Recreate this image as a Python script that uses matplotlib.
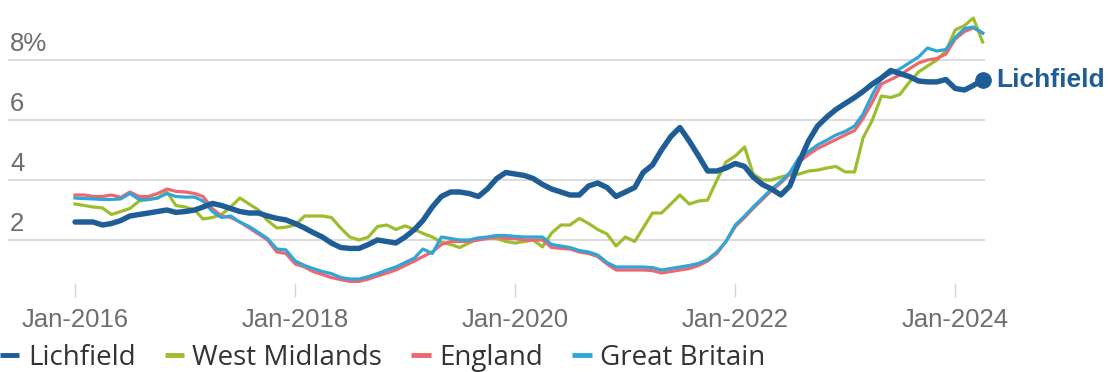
import numpy as np
import pandas as pd
import matplotlib
matplotlib.use("Agg")
import matplotlib.pyplot as plt
import matplotlib.dates as mdates
import matplotlib.transforms as mtransforms

# monthly values, Jan-2016 .. Apr-2024 (%)
months = pd.date_range("2016-01-01", periods=100, freq="MS")

lichfield = [
    2.6, 2.6, 2.6, 2.5, 2.55, 2.65, 2.8, 2.85, 2.9, 2.95,
    3.0, 2.92, 2.95, 3.0, 3.1, 3.22, 3.15, 3.05, 2.95, 2.9,
    2.9, 2.8, 2.72, 2.67, 2.55, 2.4, 2.25, 2.1, 1.9, 1.75,
    1.72, 1.72, 1.85, 2.0, 1.95, 1.9, 2.1, 2.35, 2.65, 3.1,
    3.45, 3.6, 3.6, 3.55, 3.45, 3.7, 4.05, 4.25, 4.2, 4.15,
    4.05, 3.85, 3.7, 3.6, 3.5, 3.5, 3.8, 3.9, 3.75, 3.45,
    3.6, 3.75, 4.25, 4.5, 5.0, 5.45, 5.75, 5.3, 4.8, 4.3,
    4.3, 4.4, 4.55, 4.45, 4.1, 3.85, 3.7, 3.5, 3.8, 4.6,
    5.3, 5.8, 6.1, 6.35, 6.55, 6.75, 6.95, 7.2, 7.4, 7.65,
    7.55, 7.45, 7.3, 7.27, 7.27, 7.35, 7.05, 7.0, 7.15, 7.33,
]
west_midlands = [
    3.2, 3.15, 3.1, 3.07, 2.85, 2.95, 3.05, 3.3, 3.35, 3.4,
    3.6, 3.15, 3.1, 3.0, 2.7, 2.75, 2.85, 3.1, 3.4, 3.2,
    3.0, 2.65, 2.4, 2.43, 2.5, 2.8, 2.8, 2.8, 2.75, 2.4,
    2.1, 2.0, 2.1, 2.45, 2.5, 2.35, 2.47, 2.35, 2.22, 2.1,
    1.93, 1.85, 1.75, 1.9, 2.05, 2.07, 2.05, 1.95, 1.9, 1.95,
    2.0, 1.77, 2.23, 2.5, 2.5, 2.72, 2.55, 2.35, 2.2, 1.8,
    2.1, 1.95, 2.4, 2.9, 2.9, 3.2, 3.5, 3.2, 3.3, 3.33,
    4.0, 4.6, 4.8, 5.1, 4.2, 4.0, 4.0, 4.1, 4.17, 4.2,
    4.3, 4.33, 4.4, 4.45, 4.27, 4.27, 5.4, 6.0, 6.8, 6.75,
    6.85, 7.25, 7.6, 7.8, 8.0, 8.3, 9.0, 9.15, 9.4, 8.6,
]
england = [
    3.5, 3.5, 3.45, 3.45, 3.5, 3.42, 3.6, 3.45, 3.45, 3.55,
    3.7, 3.62, 3.6, 3.55, 3.45, 3.05, 2.8, 2.75, 2.6, 2.4,
    2.2, 2.0, 1.6, 1.55, 1.2, 1.1, 0.95, 0.85, 0.75, 0.68,
    0.62, 0.62, 0.7, 0.8, 0.9, 1.0, 1.15, 1.3, 1.45, 1.6,
    1.85, 1.95, 1.95, 1.95, 2.0, 2.05, 2.1, 2.05, 2.05, 2.0,
    2.0, 2.0, 1.75, 1.72, 1.7, 1.6, 1.55, 1.45, 1.2, 1.0,
    1.0, 1.0, 1.0, 0.98, 0.9, 0.95, 1.0, 1.05, 1.15, 1.3,
    1.55, 1.95, 2.45, 2.75, 3.05, 3.35, 3.65, 3.9, 4.2, 4.6,
    4.85, 5.05, 5.2, 5.35, 5.5, 5.65, 6.05, 6.6, 7.2, 7.35,
    7.5, 7.7, 7.9, 8.0, 8.05, 8.2, 8.7, 8.95, 9.07, 8.9,
]
great_britain = [
    3.4, 3.38, 3.37, 3.35, 3.35, 3.37, 3.55, 3.35, 3.35, 3.4,
    3.55, 3.45, 3.43, 3.43, 3.3, 2.95, 2.75, 2.8, 2.6, 2.45,
    2.25, 2.05, 1.7, 1.67, 1.3, 1.15, 1.05, 0.95, 0.88, 0.75,
    0.7, 0.7, 0.78, 0.88, 1.0, 1.1, 1.25, 1.4, 1.7, 1.55,
    2.1, 2.05, 2.0, 2.0, 2.07, 2.1, 2.15, 2.15, 2.12, 2.1,
    2.1, 2.1, 1.85, 1.8, 1.75, 1.65, 1.6, 1.5, 1.25, 1.1,
    1.1, 1.1, 1.1, 1.08, 1.0, 1.05, 1.1, 1.15, 1.22, 1.35,
    1.6, 1.95, 2.5, 2.8, 3.1, 3.4, 3.7, 3.95, 4.25, 4.75,
    4.95, 5.17, 5.33, 5.5, 5.62, 5.8, 6.2, 6.85, 7.4, 7.55,
    7.7, 7.9, 8.1, 8.4, 8.3, 8.35, 8.75, 9.05, 9.1, 8.9,
]

y_ticks = [2, 4, 6, 8]
y_labels = ["2", "4", "6", "8%"]
x_ticks = pd.to_datetime(["2016-01-01", "2018-01-01", "2020-01-01", "2022-01-01", "2024-01-01"])
x_labels = ["Jan-2016", "Jan-2018", "Jan-2020", "Jan-2022", "Jan-2024"]

C_LICH = "#1f5d96"
C_WM = "#9dbd2f"
C_ENG = "#ef6670"
C_GB = "#2fa6d6"
GRID = "#d6d6d6"
TXT = "#6e6e6e"

fig = plt.figure(figsize=(11.09, 3.72), dpi=100)
ax = fig.add_axes([8 / 1109, 1 - 283 / 372, (985 - 8) / 1109, (283 - 10) / 372])

ax.plot(months, west_midlands, color=C_WM, lw=2.3, label="West Midlands", clip_on=False, zorder=2)
ax.plot(months, england, color=C_ENG, lw=2.3, label="England", clip_on=False, zorder=3)
ax.plot(months, great_britain, color=C_GB, lw=2.3, label="Great Britain", clip_on=False, zorder=4)
ax.plot(months, lichfield, color=C_LICH, lw=3.9, label="Lichfield", clip_on=False, zorder=5,
        solid_joinstyle="round", solid_capstyle="round")
ax.plot(months[-1:], lichfield[-1:], "o", color=C_LICH, ms=11, clip_on=False, zorder=6)
ax.annotate("Lichfield", (months[-1], lichfield[-1]), xytext=(10, 0), textcoords="offset points",
            va="center", ha="left", fontsize=19, fontweight="bold", color=C_LICH,
            family="Liberation Sans", annotation_clip=False)

# x range: month -7.3 .. 99.2 relative to Jan-2016
x0 = mdates.date2num(months[0])
ax.set_xlim(x0 - 7.31 * 30.44, x0 + 99.24 * 30.44)
ax.set_ylim((300 - 283) / 30, (300 - 10) / 30)

for v in y_ticks:
    ax.axhline(v, color=GRID, lw=1.2, zorder=1)
ax.set_yticks([])
trans = mtransforms.offset_copy(
    mtransforms.blended_transform_factory(ax.transAxes, ax.transData), fig=fig, x=2, y=4, units="dots")
for v, lab in zip(y_ticks, y_labels):
    ax.text(0, v, lab, transform=trans, ha="left", va="bottom", fontsize=18.5,
            color=TXT, family="Liberation Sans")

ax.set_xticks(x_ticks)
ax.set_xticklabels(x_labels, fontsize=18.5, color=TXT, family="Liberation Sans")
ax.tick_params(axis="x", length=10, width=1, color=GRID, pad=8, direction="out")
for s in ax.spines.values():
    s.set_visible(False)

handles, labels = ax.get_legend_handles_labels()
order = [3, 0, 1, 2]
leg = fig.legend([handles[i] for i in order], [labels[i] for i in order],
                 loc="center left", bbox_to_anchor=(0.0, 14 / 372), ncol=4, frameon=False,
                 handlelength=0.7, handletextpad=0.3, columnspacing=1.05,
                 borderaxespad=0, borderpad=0,
                 prop={"family": "Open Sans", "size": 20})
for t in leg.get_texts():
    t.set_color("#333333")
for h in leg.legend_handles:
    h.set_linewidth(3.5)
    h.set_solid_capstyle("butt")

fig.savefig("out.png", dpi=100)
